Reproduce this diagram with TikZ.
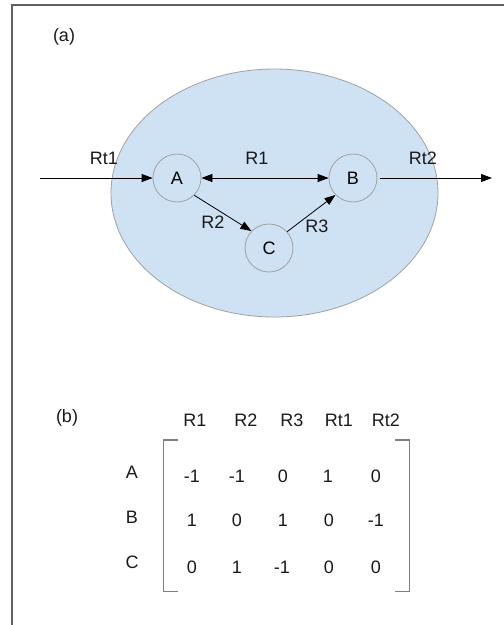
\documentclass[tikz,border=0pt]{standalone}
\usepackage{fontspec}
\setmainfont{Liberation Sans}
\usetikzlibrary{arrows.meta,shapes.geometric}
\definecolor{cellblue}{HTML}{CFE2F3}
\definecolor{rimgray}{HTML}{A0A0A0}
\definecolor{framegray}{HTML}{606060}
\definecolor{brgray}{HTML}{808080}
\begin{document}
\begin{tikzpicture}[x=1pt,y=-1pt,
  lbl/.style={font=\fontsize{18}{21}\selectfont, inner sep=0pt, text=black!90},
  state/.style={circle, draw=rimgray, line width=0.8pt, minimum size=48pt, inner sep=0pt, font=\fontsize{18}{21}\selectfont},
  flow/.style={draw=black, line width=0.8pt, -{Triangle[length=11pt,width=8pt]}},
  bflow/.style={draw=black, line width=0.8pt, {Triangle[length=11pt,width=8pt]}-{Triangle[length=11pt,width=8pt]}},
  brack/.style={draw=brgray, line width=1.5pt},
]
\useasboundingbox (0,0) rectangle (504,625);
\draw[line width=1.5pt, draw=framegray] (12,625) -- (12,5) -- (504,5);
\node[lbl] (la) at (64,37) {(a)};
\node[ellipse, draw=rimgray, fill=cellblue, line width=0.8pt, minimum width=327pt, minimum height=248pt, inner sep=0pt] (cell) at (274.5,193) {};
\node[state] (A) at (177,178) {A};
\node[state] (B) at (353,178) {B};
\node[state] (C) at (269,248) {C};
\coordinate (in) at (40,178);
\coordinate (out) at (492,178);
\draw[flow] (in) -- (A);
\draw[flow, shorten <=3pt] (B) -- (out);
\draw[bflow] (A) -- (B);
\draw[flow] (A.-45) -- (C.136);
\draw[flow] (C.42) -- (B.224);
\node[lbl] (lrt1) at (104,158) {Rt1};
\node[lbl] (lr1) at (257,158) {R1};
\node[lbl] (lrt2) at (423,158) {Rt2};
\node[lbl] (lr2) at (213,222) {R2};
\node[lbl] (lr3) at (317,226) {R3};
% (b)
\node[lbl] (lb) at (67,418) {(b)};
\foreach \t/\x [count=\i] in {R1/195,R2/246,R3/292,Rt1/339,Rt2/386}
  \node[lbl] (h\i) at (\x,420) {\t};
\foreach \t/\y in {A/472,B/517,C/562}
  \node[lbl] (r\t) at (132,\y) {\t};
\foreach \v/\x [count=\j] in {-1/192,-1/237,0/283,1/328,0/376}
  \node[lbl] (m1\j) at (\x,476) {\v};
\foreach \v/\x [count=\j] in {1/192,0/237,1/283,0/329,-1/376}
  \node[lbl] (m2\j) at (\x,520) {\v};
\foreach \v/\x [count=\j] in {0/192,1/237,-1/282,0/329,0/376}
  \node[lbl] (m3\j) at (\x,567) {\v};
\coordinate (bl1) at (178,440);
\coordinate (bl2) at (163.3,440);
\coordinate (bl3) at (163.3,591.7);
\coordinate (bl4) at (178,591.7);
\coordinate (br1) at (395,440);
\coordinate (br2) at (409.3,440);
\coordinate (br3) at (409.3,591.7);
\coordinate (br4) at (395,591.7);
\draw[brack] (bl1) -- (bl2) -- (bl3) -- (bl4);
\draw[brack] (br1) -- (br2) -- (br3) -- (br4);
\end{tikzpicture}
\end{document}
